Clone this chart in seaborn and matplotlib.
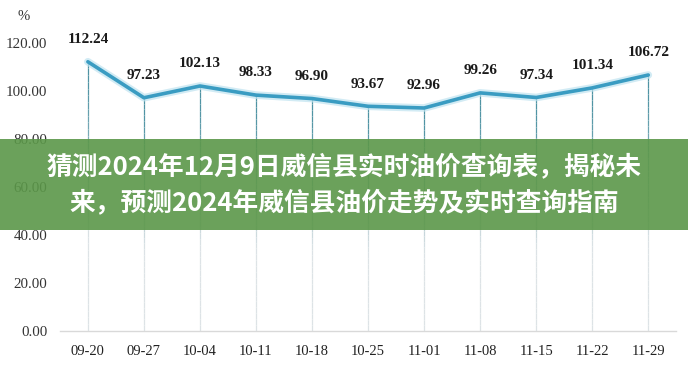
import numpy as np
import pandas as pd
import matplotlib
matplotlib.use('Agg')
import matplotlib.pyplot as plt
import matplotlib.patheffects as pe
from matplotlib.patches import Rectangle
import seaborn as sns

# chart data
dates = ['09-20', '09-27', '10-04', '10-11', '10-18', '10-25',
         '11-01', '11-08', '11-15', '11-22', '11-29']
values = [112.24, 97.23, 102.13, 98.33, 96.90, 93.67,
          92.96, 99.26, 97.34, 101.34, 106.72]
yticks = [0, 20, 40, 60, 80, 100, 120]
banner_lines = ['猜测2024年12月9日威信县实时油价查询表，揭秘未',
                '来，预测2024年威信县油价走势及实时查询指南']

sns.set_theme(style='white')
plt.rcParams['font.family'] = ['Liberation Serif', 'DejaVu Serif']

df = pd.DataFrame({'pos': np.arange(len(dates)), 'date': dates, 'value': values})

fig = plt.figure(figsize=(6.88, 3.71), dpi=100)
ax = fig.add_axes([0.087, 0.108, 0.896, 0.808])

# drop lines, fading from teal at the top to light gray at the bottom
top_c = np.array(matplotlib.colors.to_rgb('#4f93a3'))
bot_c = np.array(matplotlib.colors.to_rgb('#dde3e6'))
n = 40
for k in range(n):
    y0 = df['value'] * k / n
    y1 = df['value'] * (k + 1) / n
    t = np.clip(((y0 + y1) / 2 - 35) / 55, 0, 1).mean()
    col = bot_c + (top_c - bot_c) * t
    ax.vlines(df['pos'], y0, y1, colors=[col], linewidth=0.9, zorder=1)

sns.lineplot(data=df, x='pos', y='value', ax=ax, color='#3a9cc2', linewidth=2.6,
             zorder=3,
             path_effects=[pe.Stroke(linewidth=5.5, foreground='#bfe3f0', alpha=0.7),
                           pe.Normal()])

for _, r in df.iterrows():
    ax.annotate(f"{r['value']:.2f}", (r['pos'], r['value']), xytext=(0, 16),
                textcoords='offset points', ha='center', va='center',
                fontsize=11, fontweight='bold', color='#1a1a1a')

ax.set_xlim(-0.5, len(dates) - 0.5)
ax.set_ylim(0, 125)
ax.set_xticks(df['pos'])
ax.set_xticklabels(dates, fontsize=10.5, color='#222222')
ax.set_yticks(yticks)
ax.set_yticklabels([f'{v:.2f}' for v in yticks], fontsize=10.8, color='#333333')
ax.tick_params(axis='x', length=0, pad=10)
ax.tick_params(axis='y', length=0, pad=9)
ax.set_xlabel('')
ax.set_ylabel('')
for s in ['top', 'right', 'left']:
    ax.spines[s].set_visible(False)
ax.spines['bottom'].set_color('#d9d9d9')
ax.spines['bottom'].set_linewidth(1)

fig.text(24 / 688, 1 - 16 / 371, '%', fontsize=10.5, color='#333333',
         ha='center', va='center')

# green title banner over the chart
fig.patches.append(Rectangle((0, 1 - 230 / 371), 1, 91 / 371, transform=fig.transFigure,
                             facecolor='#5b9749', alpha=0.9, edgecolor='none', zorder=5))
for i, line in enumerate(banner_lines):
    fig.text(0.5, 1 - (167 + 36 * i) / 371, line, ha='center', va='center',
             fontsize=18.5, fontweight='bold', color='white', zorder=6,
             family=['Noto Sans CJK SC', 'DejaVu Sans'])

fig.savefig('out.png', dpi=100)
